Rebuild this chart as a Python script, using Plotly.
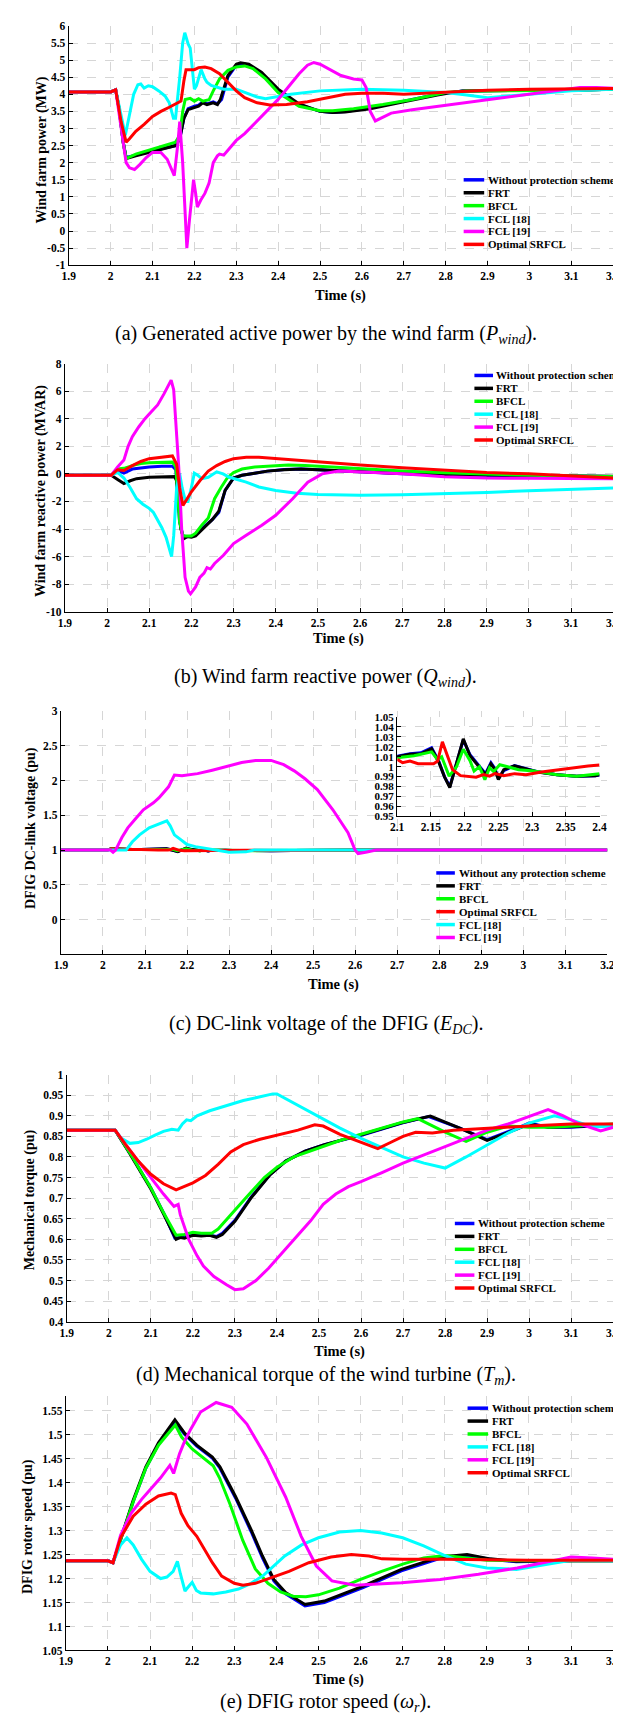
import plotly.graph_objects as go

# ---------------- data ----------------
TIME_TICKS = [1.9, 2.0, 2.1, 2.2, 2.3, 2.4, 2.5, 2.6, 2.7, 2.8, 2.9, 3.0, 3.1, 3.2]
TIME_LABELS = ["1.9", "2", "2.1", "2.2", "2.3", "2.4", "2.5", "2.6", "2.7", "2.8", "2.9", "3", "3.1", "3.2"]

P_TICKS = [-1, -0.5, 0, 0.5, 1, 1.5, 2, 2.5, 3, 3.5, 4, 4.5, 5, 5.5, 6]
Q_TICKS = [-10, -8, -6, -4, -2, 0, 2, 4, 6, 8]
E_TICKS = [0, 0.5, 1, 1.5, 2, 2.5, 3]
T_TICKS = [0.4, 0.45, 0.5, 0.55, 0.6, 0.65, 0.7, 0.75, 0.8, 0.85, 0.9, 0.95, 1]
W_TICKS = [1.05, 1.1, 1.15, 1.2, 1.25, 1.3, 1.35, 1.4, 1.45, 1.5, 1.55]
ZOOM_X_TICKS = [2.1, 2.15, 2.2, 2.25, 2.3, 2.35, 2.4]
ZOOM_Y_TICKS = [0.95, 0.96, 0.97, 0.98, 0.99, 1.0, 1.01, 1.02, 1.03, 1.04, 1.05]

# (a) wind farm active power (MW)
p_without = [(1.9,4.07),(2.0,4.07),(2.012,4.13),(2.02,3.6),(2.03,2.6),(2.037,2.15),(2.06,2.22),(2.1,2.35),(2.13,2.43),(2.155,2.5),(2.165,2.7),(2.175,3.3),(2.185,3.58),(2.2,3.65),(2.21,3.68),(2.22,3.78),(2.23,3.72),(2.245,3.78),(2.255,3.72),(2.265,3.85),(2.28,4.5),(2.3,4.85),(2.315,4.9),(2.33,4.85),(2.36,4.6),(2.4,4.1),(2.45,3.7),(2.5,3.5),(2.53,3.47),(2.56,3.5),(2.62,3.6),(2.7,3.8),(2.78,4.0),(2.84,4.1),(2.9,4.1),(3.0,4.1),(3.1,4.12),(3.2,4.15)]
p_frt = [(1.9,4.07),(2.0,4.07),(2.012,4.13),(2.02,3.6),(2.03,2.6),(2.037,2.12),(2.06,2.2),(2.1,2.33),(2.13,2.42),(2.155,2.5),(2.165,2.7),(2.175,3.3),(2.185,3.55),(2.2,3.62),(2.21,3.65),(2.22,3.75),(2.23,3.7),(2.245,3.75),(2.255,3.7),(2.262,3.85),(2.28,4.55),(2.3,4.88),(2.31,4.92),(2.33,4.88),(2.36,4.65),(2.4,4.15),(2.45,3.72),(2.5,3.5),(2.53,3.47),(2.56,3.48),(2.62,3.58),(2.7,3.78),(2.78,3.98),(2.84,4.1),(2.9,4.1),(3.0,4.1),(3.1,4.12),(3.2,4.15)]
p_bfcl = [(1.9,4.07),(2.0,4.07),(2.012,4.13),(2.02,3.6),(2.03,2.6),(2.037,2.12),(2.06,2.25),(2.1,2.4),(2.13,2.5),(2.155,2.6),(2.165,2.8),(2.172,3.5),(2.178,3.85),(2.19,3.88),(2.2,3.8),(2.21,3.87),(2.22,3.8),(2.235,3.84),(2.245,4.1),(2.26,4.45),(2.28,4.7),(2.3,4.8),(2.32,4.83),(2.34,4.75),(2.37,4.45),(2.4,4.05),(2.45,3.65),(2.5,3.52),(2.53,3.52),(2.58,3.58),(2.65,3.7),(2.72,3.85),(2.8,4.05),(2.85,4.1),(2.9,4.1),(3.0,4.1),(3.1,4.12),(3.2,4.15)]
p_fcl18 = [(1.9,4.07),(2.0,4.07),(2.012,4.13),(2.025,3.4),(2.035,2.8),(2.045,3.4),(2.055,4.0),(2.065,4.28),(2.072,4.3),(2.08,4.18),(2.09,4.25),(2.1,4.22),(2.115,4.1),(2.13,3.95),(2.14,3.75),(2.15,3.3),(2.155,3.3),(2.165,4.5),(2.172,5.5),(2.177,5.8),(2.185,5.47),(2.19,5.35),(2.195,4.8),(2.2,4.15),(2.205,4.25),(2.216,4.72),(2.225,4.45),(2.23,4.35),(2.24,4.26),(2.27,4.15),(2.3,4.15),(2.33,4.0),(2.35,3.92),(2.37,3.87),(2.43,4.0),(2.5,4.1),(2.6,4.15),(2.7,4.12),(2.8,4.05),(2.85,3.98),(2.9,3.9),(2.95,3.95),(3.0,4.0),(3.1,4.1),(3.2,4.15)]
p_fcl19 = [(1.9,4.07),(2.0,4.07),(2.012,4.13),(2.025,3.0),(2.037,2.0),(2.045,1.85),(2.057,1.8),(2.07,1.95),(2.085,2.15),(2.1,2.3),(2.12,2.3),(2.135,2.1),(2.145,1.8),(2.152,1.62),(2.16,2.5),(2.165,3.2),(2.172,2.0),(2.178,0.5),(2.182,-0.5),(2.188,0.3),(2.195,1.3),(2.198,1.5),(2.203,1.1),(2.207,0.7),(2.215,0.9),(2.225,1.1),(2.235,1.4),(2.245,2.0),(2.255,2.2),(2.26,2.25),(2.27,2.22),(2.285,2.45),(2.3,2.65),(2.32,2.85),(2.34,3.1),(2.37,3.5),(2.4,3.85),(2.43,4.3),(2.45,4.6),(2.47,4.85),(2.485,4.93),(2.5,4.88),(2.52,4.75),(2.55,4.55),(2.58,4.45),(2.6,4.42),(2.61,4.2),(2.62,3.5),(2.632,3.22),(2.645,3.3),(2.67,3.45),(2.72,3.55),(2.8,3.68),(2.88,3.82),(2.95,3.92),(3.0,4.0),(3.06,4.1),(3.12,4.2),(3.16,4.2),(3.2,4.18)]
p_srfcl = [(1.9,4.07),(2.0,4.07),(2.012,4.13),(2.025,3.2),(2.037,2.6),(2.045,2.7),(2.06,2.92),(2.08,3.12),(2.1,3.35),(2.12,3.5),(2.14,3.62),(2.16,3.75),(2.168,3.8),(2.175,4.4),(2.18,4.72),(2.2,4.72),(2.21,4.78),(2.225,4.8),(2.24,4.75),(2.26,4.6),(2.28,4.35),(2.3,4.1),(2.32,3.9),(2.35,3.75),(2.38,3.69),(2.42,3.7),(2.47,3.78),(2.52,3.9),(2.56,4.0),(2.6,4.03),(2.65,4.03),(2.7,4.0),(2.75,4.03),(2.8,4.08),(2.9,4.12),(3.0,4.15),(3.1,4.17),(3.2,4.17)]

# (b) wind farm reactive power (MVAR)
q_without = [(1.9,-0.1),(2.0,-0.1),(2.01,-0.1),(2.025,0.25),(2.04,0.05),(2.06,0.35),(2.08,0.45),(2.1,0.5),(2.13,0.55),(2.155,0.55),(2.163,0.3),(2.172,-3.5),(2.18,-4.5),(2.19,-4.55),(2.205,-4.5),(2.22,-4.1),(2.24,-3.6),(2.25,-3.3),(2.265,-2.8),(2.28,-1.2),(2.3,-0.3),(2.32,-0.1),(2.35,0.05),(2.38,0.2),(2.42,0.32),(2.46,0.35),(2.5,0.3),(2.6,0.15),(2.7,0.0),(2.8,-0.08),(2.9,-0.12),(3.0,-0.15),(3.1,-0.18),(3.2,-0.2)]
q_frt = [(1.9,-0.1),(2.0,-0.1),(2.01,-0.1),(2.025,-0.4),(2.04,-0.7),(2.055,-0.5),(2.07,-0.35),(2.1,-0.25),(2.13,-0.2),(2.16,-0.2),(2.165,-0.5),(2.175,-4.0),(2.182,-4.7),(2.19,-4.55),(2.2,-4.6),(2.21,-4.5),(2.23,-3.9),(2.25,-3.3),(2.265,-2.7),(2.28,-1.2),(2.3,-0.3),(2.32,-0.1),(2.35,0.05),(2.38,0.2),(2.42,0.3),(2.46,0.35),(2.5,0.3),(2.6,0.15),(2.7,0.02),(2.8,-0.05),(2.9,-0.1),(3.0,-0.12),(3.1,-0.15),(3.2,-0.18)]
q_bfcl = [(1.9,-0.1),(2.0,-0.1),(2.01,-0.1),(2.025,0.35),(2.04,0.4),(2.06,0.6),(2.08,0.75),(2.1,0.8),(2.13,0.82),(2.155,0.85),(2.163,0.5),(2.172,-3.5),(2.18,-4.5),(2.2,-4.5),(2.21,-4.3),(2.225,-3.7),(2.24,-3.2),(2.255,-1.8),(2.27,-1.0),(2.285,-0.3),(2.3,0.1),(2.32,0.35),(2.35,0.5),(2.4,0.6),(2.43,0.65),(2.47,0.6),(2.5,0.55),(2.6,0.35),(2.7,0.2),(2.8,0.08),(2.9,-0.02),(3.0,-0.1),(3.1,-0.15),(3.2,-0.2)]
q_fcl18 = [(1.9,-0.1),(2.0,-0.1),(2.01,-0.1),(2.025,0.1),(2.04,-0.3),(2.055,-1.0),(2.07,-1.8),(2.085,-2.2),(2.1,-2.5),(2.11,-2.8),(2.12,-3.3),(2.13,-3.9),(2.14,-4.6),(2.148,-5.4),(2.153,-6.0),(2.158,-4.5),(2.165,-1.0),(2.172,0.05),(2.178,-1.0),(2.186,-2.0),(2.192,-2.0),(2.2,-1.0),(2.207,0.05),(2.215,-0.1),(2.225,-0.35),(2.24,-0.25),(2.26,0.15),(2.275,0.0),(2.29,-0.25),(2.33,-0.6),(2.36,-0.95),(2.4,-1.2),(2.45,-1.4),(2.5,-1.5),(2.6,-1.55),(2.7,-1.52),(2.8,-1.45),(2.9,-1.35),(3.0,-1.22),(3.1,-1.12),(3.2,-1.02)]
q_fcl19 = [(1.9,-0.1),(2.0,-0.1),(2.01,-0.1),(2.025,0.5),(2.04,1.0),(2.05,2.0),(2.06,2.7),(2.075,3.4),(2.09,4.0),(2.105,4.5),(2.12,5.0),(2.135,5.8),(2.145,6.4),(2.152,6.8),(2.158,6.1),(2.163,4.0),(2.17,0.5),(2.177,-4.0),(2.185,-7.5),(2.193,-8.5),(2.198,-8.7),(2.21,-8.2),(2.22,-7.5),(2.23,-7.2),(2.237,-6.8),(2.245,-6.9),(2.255,-6.5),(2.276,-5.9),(2.3,-5.05),(2.33,-4.45),(2.367,-3.73),(2.4,-3.0),(2.44,-1.8),(2.476,-0.6),(2.51,0.0),(2.55,0.2),(2.6,0.15),(2.7,0.0),(2.8,-0.2),(2.9,-0.3),(3.0,-0.32),(3.1,-0.35),(3.2,-0.35)]
q_srfcl = [(1.9,-0.1),(2.0,-0.1),(2.01,-0.1),(2.025,0.3),(2.04,0.25),(2.06,0.6),(2.08,0.9),(2.1,1.1),(2.13,1.2),(2.15,1.25),(2.155,1.3),(2.165,0.7),(2.172,-1.0),(2.18,-2.3),(2.19,-1.8),(2.2,-1.3),(2.22,-0.5),(2.24,0.2),(2.26,0.6),(2.28,0.9),(2.3,1.1),(2.33,1.2),(2.36,1.2),(2.4,1.1),(2.45,1.0),(2.5,0.85),(2.6,0.65),(2.7,0.45),(2.8,0.25),(2.9,0.1),(3.0,0.0),(3.1,-0.15),(3.2,-0.3)]

# (c) DC-link voltage (pu): zoomed window 2.1-2.4 s
edc_zoom_without = [(2.1,1.0105),(2.119,1.013),(2.135,1.014),(2.151,1.019),(2.162,1.005),(2.17,0.99),(2.178,0.98),(2.188,1.004),(2.198,1.027),(2.208,1.012),(2.217,1.005),(2.225,0.998),(2.231,0.993),(2.239,1.004),(2.245,0.998),(2.25,0.988),(2.258,0.996),(2.274,1.001),(2.291,0.998),(2.308,0.995),(2.337,0.992),(2.366,0.9905),(2.394,0.991),(2.4,0.9915)]
edc_zoom_frt = [(2.1,1.0101),(2.119,1.0125),(2.135,1.013),(2.151,1.018),(2.162,1.004),(2.17,0.99),(2.178,0.979),(2.188,1.004),(2.198,1.028),(2.208,1.011),(2.217,1.004),(2.225,0.997),(2.231,0.992),(2.239,1.003),(2.245,0.997),(2.25,0.987),(2.258,0.997),(2.274,1.001),(2.291,0.998),(2.308,0.9946),(2.337,0.992),(2.366,0.9905),(2.394,0.991),(2.4,0.992)]
edc_zoom_bfcl = [(2.1,1.009),(2.125,1.011),(2.151,1.015),(2.16,1.007),(2.166,1.01),(2.177,0.9905),(2.188,1.0),(2.198,1.0175),(2.208,1.006),(2.214,0.9956),(2.222,1.0),(2.23,0.987),(2.237,0.999),(2.243,0.995),(2.252,1.002),(2.265,1.0),(2.28,0.997),(2.303,0.9956),(2.337,0.992),(2.366,0.9905),(2.4,0.993)]
edc_zoom_srfcl = [(2.1,1.0074),(2.108,1.004),(2.119,1.0056),(2.131,1.003),(2.154,1.003),(2.16,1.0056),(2.167,1.025),(2.174,1.0125),(2.182,0.997),(2.194,0.991),(2.208,0.9905),(2.217,0.9895),(2.228,0.992),(2.237,0.9905),(2.245,0.993),(2.258,0.991),(2.274,0.993),(2.291,0.992),(2.314,0.9946),(2.337,0.9966),(2.36,0.999),(2.383,1.0006),(2.4,1.0016)]
edc_before = [(1.9,1.0),(2.0,1.0),(2.01,1.0),(2.02,1.02),(2.035,1.015),(2.05,1.005),(2.07,1.008),(2.09,1.01)]
edc_after = [(2.45,0.995),(2.55,0.998),(2.65,1.0),(3.2,1.0)]
edc_fcl18 = [(1.9,1.0),(2.055,1.0),(2.07,1.12),(2.087,1.22),(2.11,1.32),(2.135,1.38),(2.152,1.42),(2.16,1.35),(2.17,1.22),(2.185,1.15),(2.2,1.08),(2.22,1.05),(2.24,1.03),(2.27,1.0),(2.3,0.97),(2.34,0.975),(2.36,1.0),(3.2,1.0)]
edc_fcl19 = [(1.9,1.0),(2.0,1.0),(2.018,1.0),(2.024,0.97),(2.03,1.0),(2.045,1.18),(2.059,1.32),(2.08,1.47),(2.096,1.58),(2.12,1.68),(2.133,1.75),(2.156,1.91),(2.17,2.08),(2.188,2.07),(2.225,2.1),(2.26,2.15),(2.298,2.21),(2.33,2.26),(2.363,2.29),(2.4,2.29),(2.43,2.23),(2.455,2.14),(2.48,2.03),(2.51,1.87),(2.547,1.58),(2.583,1.25),(2.6,1.0),(2.607,0.95),(2.625,0.97),(2.65,1.0),(3.2,1.0)]

# (d) mechanical torque (pu)
tm_without = [(1.9,0.865),(2.0,0.865),(2.015,0.865),(2.05,0.81),(2.1,0.725),(2.13,0.665),(2.157,0.603),(2.17,0.605),(2.18,0.61),(2.2,0.61),(2.22,0.612),(2.24,0.61),(2.256,0.607),(2.27,0.615),(2.3,0.646),(2.338,0.702),(2.384,0.758),(2.421,0.79),(2.467,0.814),(2.513,0.83),(2.605,0.854),(2.697,0.882),(2.761,0.898),(2.835,0.87),(2.9,0.842),(2.972,0.87),(3.0,0.882),(3.046,0.872),(3.1,0.872),(3.2,0.878)]
tm_frt = [(1.9,0.865),(2.0,0.865),(2.015,0.865),(2.05,0.808),(2.1,0.722),(2.13,0.662),(2.16,0.6),(2.17,0.605),(2.18,0.603),(2.2,0.61),(2.22,0.608),(2.24,0.61),(2.256,0.605),(2.27,0.612),(2.3,0.644),(2.338,0.7),(2.384,0.757),(2.421,0.79),(2.467,0.814),(2.513,0.83),(2.605,0.855),(2.697,0.883),(2.765,0.899),(2.835,0.87),(2.9,0.84),(2.972,0.868),(3.0,0.88),(3.046,0.872),(3.1,0.873),(3.2,0.878)]
tm_bfcl = [(1.9,0.865),(2.0,0.865),(2.015,0.865),(2.05,0.81),(2.1,0.725),(2.13,0.665),(2.16,0.61),(2.18,0.612),(2.2,0.617),(2.22,0.615),(2.245,0.615),(2.26,0.625),(2.29,0.66),(2.33,0.705),(2.37,0.75),(2.4,0.775),(2.44,0.8),(2.5,0.822),(2.55,0.84),(2.6,0.855),(2.65,0.87),(2.7,0.885),(2.735,0.893),(2.8,0.86),(2.85,0.838),(2.9,0.86),(2.95,0.875),(3.0,0.872),(3.05,0.872),(3.1,0.875),(3.2,0.88)]
tm_fcl18 = [(1.9,0.865),(2.0,0.865),(2.015,0.865),(2.03,0.845),(2.05,0.833),(2.07,0.835),(2.09,0.843),(2.11,0.853),(2.13,0.862),(2.15,0.867),(2.165,0.865),(2.175,0.88),(2.185,0.89),(2.195,0.888),(2.21,0.9),(2.24,0.912),(2.28,0.925),(2.32,0.937),(2.36,0.946),(2.39,0.953),(2.4,0.953),(2.45,0.925),(2.5,0.898),(2.55,0.87),(2.6,0.845),(2.65,0.822),(2.7,0.8),(2.75,0.785),(2.8,0.773),(2.85,0.8),(2.9,0.83),(2.95,0.858),(3.0,0.882),(3.06,0.9),(3.1,0.89),(3.15,0.873),(3.2,0.875)]
tm_fcl19 = [(1.9,0.865),(2.0,0.865),(2.015,0.865),(2.04,0.83),(2.07,0.79),(2.1,0.75),(2.13,0.71),(2.155,0.68),(2.165,0.685),(2.17,0.66),(2.178,0.635),(2.183,0.625),(2.19,0.6),(2.2,0.58),(2.21,0.56),(2.225,0.535),(2.25,0.51),(2.28,0.49),(2.3,0.478),(2.32,0.48),(2.35,0.5),(2.38,0.53),(2.41,0.565),(2.45,0.61),(2.48,0.645),(2.51,0.685),(2.54,0.71),(2.57,0.728),(2.6,0.74),(2.65,0.762),(2.7,0.785),(2.75,0.805),(2.8,0.825),(2.85,0.845),(2.9,0.865),(2.95,0.88),(3.0,0.898),(3.045,0.915),(3.08,0.9),(3.12,0.88),(3.17,0.863),(3.2,0.872)]
tm_srfcl = [(1.9,0.865),(2.0,0.865),(2.015,0.865),(2.04,0.83),(2.07,0.79),(2.1,0.758),(2.13,0.735),(2.16,0.72),(2.18,0.728),(2.2,0.737),(2.23,0.755),(2.26,0.782),(2.29,0.812),(2.32,0.83),(2.36,0.843),(2.4,0.853),(2.45,0.865),(2.49,0.878),(2.51,0.875),(2.55,0.855),(2.6,0.835),(2.64,0.82),(2.67,0.835),(2.7,0.85),(2.73,0.86),(2.77,0.858),(2.82,0.865),(2.9,0.87),(3.0,0.875),(3.1,0.88),(3.2,0.88)]

# (e) rotor speed (pu)
wr_without = [(1.9,1.237),(2.0,1.237),(2.012,1.233),(2.03,1.28),(2.06,1.36),(2.09,1.43),(2.12,1.48),(2.16,1.525),(2.183,1.5),(2.211,1.476),(2.248,1.451),(2.266,1.43),(2.303,1.368),(2.34,1.298),(2.367,1.243),(2.394,1.195),(2.422,1.168),(2.468,1.143),(2.514,1.15),(2.606,1.181),(2.697,1.216),(2.789,1.242),(2.853,1.248),(2.908,1.24),(2.97,1.235),(3.1,1.237),(3.2,1.237)]
wr_frt = [(1.9,1.237),(2.0,1.237),(2.012,1.233),(2.03,1.282),(2.06,1.363),(2.09,1.433),(2.12,1.483),(2.159,1.531),(2.183,1.502),(2.211,1.478),(2.248,1.453),(2.266,1.433),(2.303,1.371),(2.34,1.302),(2.367,1.247),(2.394,1.198),(2.422,1.171),(2.468,1.146),(2.514,1.153),(2.606,1.184),(2.697,1.219),(2.789,1.245),(2.853,1.25),(2.908,1.241),(2.97,1.236),(3.1,1.237),(3.2,1.237)]
wr_bfcl = [(1.9,1.237),(2.0,1.237),(2.012,1.233),(2.03,1.28),(2.06,1.36),(2.09,1.43),(2.12,1.478),(2.16,1.52),(2.175,1.495),(2.2,1.47),(2.23,1.45),(2.25,1.435),(2.265,1.41),(2.29,1.355),(2.32,1.28),(2.35,1.22),(2.38,1.19),(2.41,1.172),(2.44,1.163),(2.47,1.162),(2.5,1.166),(2.55,1.18),(2.6,1.198),(2.65,1.215),(2.7,1.23),(2.75,1.243),(2.8,1.248),(2.85,1.243),(2.9,1.238),(3.0,1.237),(3.2,1.237)]
wr_fcl18 = [(1.9,1.237),(2.0,1.237),(2.012,1.233),(2.03,1.27),(2.045,1.285),(2.06,1.27),(2.08,1.24),(2.1,1.215),(2.125,1.2),(2.14,1.203),(2.155,1.215),(2.165,1.236),(2.172,1.21),(2.183,1.174),(2.193,1.185),(2.2,1.192),(2.21,1.175),(2.22,1.17),(2.25,1.168),(2.28,1.172),(2.31,1.178),(2.34,1.19),(2.37,1.207),(2.42,1.247),(2.46,1.27),(2.5,1.285),(2.55,1.297),(2.6,1.3),(2.65,1.295),(2.7,1.285),(2.75,1.268),(2.8,1.248),(2.85,1.23),(2.9,1.222),(2.97,1.219),(3.05,1.23),(3.1,1.238),(3.2,1.237)]
wr_fcl19 = [(1.9,1.237),(2.0,1.237),(2.012,1.233),(2.03,1.29),(2.055,1.336),(2.08,1.365),(2.1,1.385),(2.125,1.41),(2.147,1.436),(2.156,1.419),(2.17,1.46),(2.183,1.488),(2.197,1.512),(2.22,1.547),(2.257,1.567),(2.294,1.557),(2.33,1.522),(2.376,1.453),(2.422,1.37),(2.459,1.288),(2.495,1.226),(2.532,1.195),(2.587,1.186),(2.697,1.191),(2.789,1.198),(2.88,1.209),(2.972,1.222),(3.05,1.237),(3.1,1.245),(3.15,1.243),(3.2,1.24)]
wr_srfcl = [(1.9,1.237),(2.0,1.237),(2.012,1.233),(2.03,1.285),(2.06,1.33),(2.09,1.355),(2.12,1.372),(2.15,1.378),(2.16,1.375),(2.174,1.336),(2.19,1.31),(2.211,1.288),(2.248,1.233),(2.27,1.205),(2.3,1.19),(2.321,1.186),(2.35,1.19),(2.376,1.198),(2.43,1.215),(2.477,1.233),(2.53,1.245),(2.578,1.25),(2.62,1.247),(2.651,1.241),(2.7,1.24),(2.8,1.24),(3.0,1.238),(3.2,1.238)]

# ---------------- styling ----------------
W, H = 621, 1715
SERIF = "Liberation Serif"
BLUE, BLACK, GREEN, CYAN, MAGENTA, RED = "#0000ff", "#000000", "#00ff00", "#00ffff", "#ff00ff", "#ff0000"
GRID = "#d6d6d6"
LW = 3


def fx(px):
    return px / W


def fy(py):
    return 1 - py / H


def lab(v):
    return format(round(v, 4), "g")


fig = go.Figure()

panels = [
    dict(box=(55, 612, 12, 253), yr=[-1, 6], yt=P_TICKS,
         series=[("Without protection scheme", p_without, BLUE), ("FRT", p_frt, BLACK), ("BFCL", p_bfcl, GREEN),
                 ("FCL [18]", p_fcl18, CYAN), ("FCL [19]", p_fcl19, MAGENTA), ("Optimal SRFCL", p_srfcl, RED)],
         leg=(459, 480, 482, 167), ytitle="Wind farm power (MW)", ytx=28, yty=137, xty=283,
         cap="(a) Generated active power by the wind farm (<i>P</i><sub><i>wind</i></sub>).", capy=323),
    dict(box=(51, 612, 352, 602), yr=[-10, 8], yt=Q_TICKS,
         series=[("Without protection scheme", q_without, BLUE), ("FRT", q_frt, BLACK), ("BFCL", q_bfcl, GREEN),
                 ("FCL [18]", q_fcl18, CYAN), ("FCL [19]", q_fcl19, MAGENTA), ("Optimal SRFCL", q_srfcl, RED)],
         leg=(470, 489, 490, 364), ytitle="Wind farm reactive power (MVAR)", ytx=26, yty=480, xty=629,
         cap="(b) Wind farm reactive power (<i>Q</i><sub><i>wind</i></sub>).", capy=668),
    dict(box=(47, 606, 702, 947), yr=[-0.5, 3], yt=E_TICKS,
         series=[("Without any protection scheme", edc_before + edc_zoom_without + edc_after, BLUE),
                 ("FRT", edc_before + edc_zoom_frt + edc_after, BLACK),
                 ("BFCL", edc_before + edc_zoom_bfcl + edc_after, GREEN),
                 ("Optimal SRFCL", edc_before + edc_zoom_srfcl + edc_after, RED),
                 ("FCL [18]", edc_fcl18, CYAN), ("FCL [19]", edc_fcl19, MAGENTA)],
         leg=(431, 450, 452, 865), ytitle="DFIG DC-link voltage (pu)", ytx=17, yty=820, xty=977,
         cap="(c) DC-link voltage of the DFIG (<i>E</i><sub><i>DC</i></sub>).", capy=1018),
    dict(box=(53, 612, 1068, 1317), yr=[0.4, 1.0], yt=T_TICKS,
         series=[("Without protection scheme", tm_without, BLUE), ("FRT", tm_frt, BLACK), ("BFCL", tm_bfcl, GREEN),
                 ("FCL [18]", tm_fcl18, CYAN), ("FCL [19]", tm_fcl19, MAGENTA), ("Optimal SRFCL", tm_srfcl, RED)],
         leg=(450, 470, 472, 1218), ytitle="Mechanical torque (pu)", ytx=15, yty=1194, xty=1347,
         cap="(d) Mechanical torque of the wind turbine (<i>T</i><sub><i>m</i></sub>).", capy=1371),
    dict(box=(52, 612, 1392, 1648), yr=[1.05, 1.58], yt=W_TICKS,
         series=[("Without protection scheme", wr_without, BLUE), ("FRT", wr_frt, BLACK), ("BFCL", wr_bfcl, GREEN),
                 ("FCL [18]", wr_fcl18, CYAN), ("FCL [19]", wr_fcl19, MAGENTA), ("Optimal SRFCL", wr_srfcl, RED)],
         leg=(463, 484, 486, 1404), ytitle="DFIG rotor speed (pu)", ytx=14, yty=1523, xty=1677,
         cap="(e) DFIG rotor speed (<i>ω</i><sub><i>r</i></sub>).", capy=1700),
]

tickfont = dict(family=SERIF, size=11.5, color="black", weight="bold")
layout = dict(width=W, height=H, margin=dict(l=0, r=0, t=0, b=0), autosize=False,
              paper_bgcolor="white", plot_bgcolor="white", showlegend=False,
              annotations=[], shapes=[])


def axis_common():
    return dict(showline=True, linecolor="black", linewidth=1.3, mirror=False,
                ticks="inside", ticklen=4, tickwidth=1.2, tickcolor="black",
                showgrid=True, gridcolor=GRID, griddash="dash", gridwidth=1,
                zeroline=False, tickfont=tickfont, ticklabeloverflow="allow")


for i, p in enumerate(panels, start=1):
    x0, x1, y0, y1 = p["box"]
    sfx = "" if i == 1 else str(i)
    xa = axis_common()
    xa.update(domain=[fx(x0), fx(x1)], range=[1.9, 3.2], tickvals=TIME_TICKS, ticktext=TIME_LABELS,
              anchor="y" + sfx)
    ya = axis_common()
    ya.update(domain=[fy(y1), fy(y0)], range=p["yr"], tickvals=p["yt"], ticktext=[lab(v) for v in p["yt"]],
              anchor="x" + sfx)
    layout["xaxis" + sfx] = xa
    layout["yaxis" + sfx] = ya
    for name, pts, col in p["series"]:
        fig.add_trace(go.Scatter(x=[t for t, _ in pts], y=[v for _, v in pts], mode="lines", name=name,
                                 line=dict(color=col, width=LW), xaxis="x" + sfx, yaxis="y" + sfx))
    lx0, lx1, tx, ly = p["leg"]
    for k, (name, _, col) in enumerate(p["series"]):
        yy = ly + 13 * k
        layout["shapes"].append(dict(type="line", xref="paper", yref="paper", x0=fx(lx0), x1=fx(lx1),
                                     y0=fy(yy), y1=fy(yy), line=dict(color=col, width=3.5)))
        layout["annotations"].append(dict(text=name, xref="paper", yref="paper", x=fx(tx), y=fy(yy),
                                          xanchor="left", yanchor="middle", showarrow=False,
                                          font=dict(family=SERIF, size=11, color="black", weight="bold")))
    layout["annotations"].append(dict(text=p["ytitle"], xref="paper", yref="paper", x=fx(p["ytx"]), y=fy(p["yty"]),
                                      textangle=-90, xanchor="center", yanchor="middle", showarrow=False,
                                      font=dict(family=SERIF, size=14, color="black", weight="bold")))
    layout["annotations"].append(dict(text="Time (s)", xref="paper", yref="paper", x=fx((x0 + x1) / 2 - 1),
                                      y=fy(p["xty"]), xanchor="center", yanchor="middle", showarrow=False,
                                      font=dict(family=SERIF, size=14.5, color="black", weight="bold")))
    layout["annotations"].append(dict(text=p["cap"], xref="paper", yref="paper", x=fx(318), y=fy(p["capy"]),
                                      xanchor="center", yanchor="middle", showarrow=False,
                                      font=dict(family=SERIF, size=20, color="black")))

# inset of panel (c)
zx0, zx1, zy0, zy1 = 391, 598, 708, 808
xa = axis_common()
xa.update(domain=[fx(zx0), fx(zx1)], range=[2.1, 2.4], tickvals=ZOOM_X_TICKS,
          ticktext=[lab(v) for v in ZOOM_X_TICKS], anchor="y6", tickfont=dict(tickfont, size=11.5))
ya = axis_common()
ya.update(domain=[fy(zy1), fy(zy0)], range=[0.95, 1.05], tickvals=ZOOM_Y_TICKS,
          ticktext=[lab(v) for v in ZOOM_Y_TICKS], anchor="x6", tickfont=dict(tickfont, size=11))
layout["xaxis6"] = xa
layout["yaxis6"] = ya
for name, pts, col in [("Without any protection scheme", edc_zoom_without, BLUE), ("FRT", edc_zoom_frt, BLACK),
                       ("BFCL", edc_zoom_bfcl, GREEN), ("Optimal SRFCL", edc_zoom_srfcl, RED)]:
    fig.add_trace(go.Scatter(x=[t for t, _ in pts], y=[v for _, v in pts], mode="lines", name=name,
                             line=dict(color=col, width=LW), xaxis="x6", yaxis="y6"))

fig.update_layout(**layout)
fig.write_html("out.html")
